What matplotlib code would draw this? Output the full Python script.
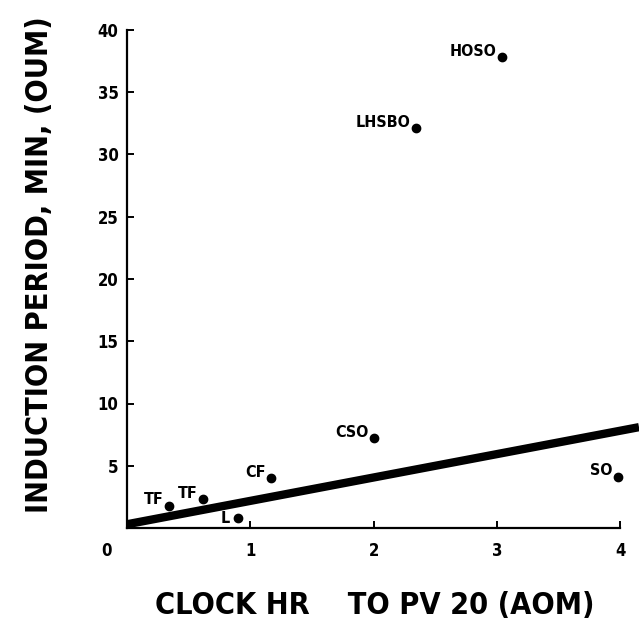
import numpy as np
import matplotlib.pyplot as plt
import matplotlib.transforms as mtransforms

plt.rcParams['font.family'] = ['DejaVu Sans']
plt.rcParams['font.stretch'] = 'condensed'
plt.rcParams['font.weight'] = 'bold'

# oils: clock hr to PV 20 (AOM) vs induction period (OUM)
names = ['TF', 'TF', 'L', 'CF', 'CSO', 'SO', 'LHSBO', 'HOSO']
aom = [0.34, 0.62, 0.90, 1.17, 2.00, 3.98, 2.34, 3.04]
oum = [1.8, 2.3, 0.8, 4.0, 7.2, 4.1, 32.1, 37.8]

# fitted line, start and end
line_x = [0.0, 4.15]
line_y = [0.3, 8.1]

xticks = [0, 1, 2, 3, 4]
yticks = [0, 5, 10, 15, 20, 25, 30, 35, 40]
ytick_labels = ['', '5', '10', '15', '20', '25', '30', '35', '40']

fig = plt.figure(figsize=(6.39, 6.42), dpi=100)
ax = fig.add_axes([127/639, 114/642, 1 - 127/639, (528 - 30)/642])

ax.plot(line_x, line_y, color='black', lw=6, solid_capstyle='butt', zorder=3)
ax.scatter(aom, oum, s=36, color='black', zorder=4)

# label offsets (points) for each dot
offs = {'L': (-6, -6)}
for n, x, y in zip(names, aom, oum):
    dx, dy = offs.get(n, (-4, -1))
    ax.annotate(n, (x, y), xytext=(dx, dy), textcoords='offset points',
                ha='right', va='bottom', fontsize=11.5, fontweight='bold',
                fontstretch='condensed')

ax.set_xlim(0, 4.15)
ax.set_ylim(0, 40)
ax.spines['top'].set_visible(False)
ax.spines['right'].set_visible(False)
ax.spines['bottom'].set_bounds(0, 4)
ax.spines['left'].set_linewidth(1.6)
ax.spines['bottom'].set_linewidth(1.6)

ax.set_xticks(xticks)
ax.set_xticklabels([str(t) for t in xticks])
ax.set_yticks(yticks)
ax.set_yticklabels(ytick_labels)
ax.tick_params(direction='in', length=5, width=1.4, labelsize=12)
ax.tick_params(axis='x', pad=10)
ax.tick_params(axis='y', pad=6)
for lab in ax.get_xticklabels() + ax.get_yticklabels():
    lab.set_fontweight('bold')
    lab.set_fontstretch('condensed')
# the shared 0 sits left of the corner
zero = ax.get_xticklabels()[0]
zero.set_transform(zero.get_transform() + mtransforms.ScaledTranslation(-20/100, 0, fig.dpi_scale_trans))

fig.text(40/639, 1 - 265/642, 'INDUCTION PERIOD, MIN, (OUM)', rotation=90,
         ha='center', va='center', fontsize=22, fontweight='bold', fontstretch='condensed')
fig.text(375/639, 1 - 605/642, 'CLOCK HR    TO PV 20 (AOM)',
         ha='center', va='center', fontsize=22, fontweight='bold', fontstretch='condensed')

fig.savefig('out.png', dpi=100)
